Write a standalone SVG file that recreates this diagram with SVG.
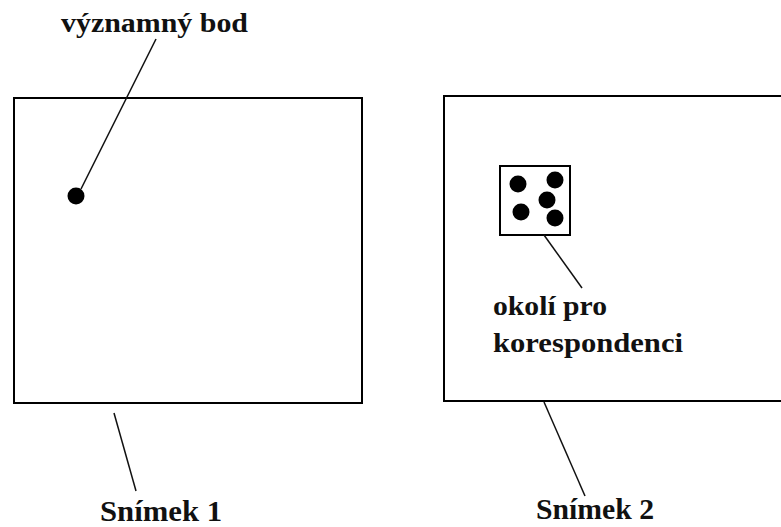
<svg xmlns="http://www.w3.org/2000/svg" width="781" height="527" viewBox="0 0 781 527">
<style>
.frame{fill:none;stroke:#000;stroke-width:2}
.dot{fill:#000}
.conn line{stroke:#111;stroke-width:1.5}
.lbl{font-family:"Liberation Serif","Times New Roman",serif;font-weight:bold;fill:#111}
</style>
<rect width="781" height="527" fill="#fff"/>
<g id="snimek1">
<rect class="frame" x="14" y="98" width="348" height="305"/>
<circle class="dot" cx="76" cy="196" r="8.5"/>
</g>
<g id="snimek2">
<rect class="frame" x="444" y="96" width="345" height="305"/>
<rect class="frame" x="500" y="166" width="70" height="69"/>
<circle class="dot" cx="518" cy="184" r="8.5"/>
<circle class="dot" cx="555" cy="180" r="8.5"/>
<circle class="dot" cx="547" cy="200" r="8.5"/>
<circle class="dot" cx="521" cy="212" r="8.5"/>
<circle class="dot" cx="555" cy="218" r="8.5"/>
</g>
<g class="conn">
<line x1="81" y1="189" x2="156" y2="39"/>
<line x1="544" y1="235" x2="582" y2="288"/>
<line x1="114" y1="413" x2="136" y2="491"/>
<line x1="544" y1="402" x2="585" y2="496"/>
</g>
<g id="label-vyznamny">
<text class="lbl" x="61" y="32" font-size="28" textLength="187" lengthAdjust="spacingAndGlyphs">významný bod</text>
</g>
<g id="label-okoli">
<text class="lbl" x="493" y="315" font-size="27" textLength="114" lengthAdjust="spacingAndGlyphs">okolí pro</text>
<text class="lbl" x="493" y="352" font-size="27" textLength="190" lengthAdjust="spacingAndGlyphs">korespondenci</text>
</g>
<g id="label-s1">
<text class="lbl" x="100" y="521" font-size="30" textLength="122" lengthAdjust="spacingAndGlyphs">Snímek 1</text>
</g>
<g id="label-s2">
<text class="lbl" x="536" y="519" font-size="30" textLength="118" lengthAdjust="spacingAndGlyphs">Snímek 2</text>
</g>
</svg>
